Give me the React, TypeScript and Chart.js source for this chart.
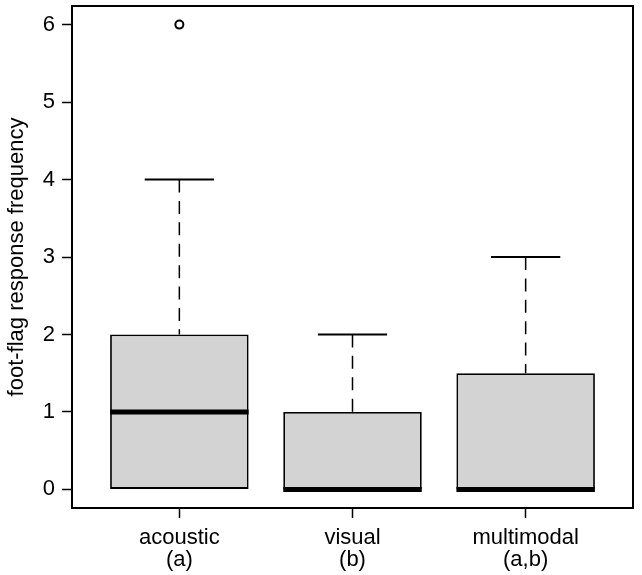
import React, { useEffect, useRef } from "react";
import { Chart, registerables } from "chart.js";

Chart.register(...registerables);

const CATEGORIES = [["acoustic", "(a)"], ["visual", "(b)"], ["multimodal", "(a,b)"]];
const POSITIONS = [1, 2, 3];
const WHISKER_LOW = [0, 0, 0];
const Q1 = [0, 0, 0];
const MEDIAN = [1, 0, 0];
const Q3 = [2, 1, 1.5];
const WHISKER_HIGH = [4, 2, 3];
const OUTLIER_GROUP = [1];
const OUTLIER_VALUE = [6];
const Y_TICKS = [0, 1, 2, 3, 4, 5, 6];
const Y_TITLE = "foot-flag response frequency";

const FONT = "'Liberation Sans', Arial, Helvetica, sans-serif";

const boxPlugin = {
  id: "boxExtras",
  afterDatasetsDraw(chart: any) {
    const ctx = chart.ctx;
    const xs = chart.scales.x;
    const ys = chart.scales.y;
    const meta = chart.getDatasetMeta(0);
    ctx.save();
    ctx.strokeStyle = "#000";
    POSITIONS.forEach((p, i) => {
      const cx = xs.getPixelForValue(p);
      const bar = meta.data[i];
      const half = bar.width / 2;
      const staple = half / 2;
      const yq1 = ys.getPixelForValue(Q1[i]);
      const yq3 = ys.getPixelForValue(Q3[i]);
      const yhi = ys.getPixelForValue(WHISKER_HIGH[i]);
      const ylo = ys.getPixelForValue(WHISKER_LOW[i]);
      ctx.lineWidth = 1.5;
      ctx.setLineDash([13, 8.4]);
      ctx.beginPath();
      ctx.moveTo(cx, yhi);
      ctx.lineTo(cx, yq3);
      if (WHISKER_LOW[i] < Q1[i]) {
        ctx.moveTo(cx, ylo);
        ctx.lineTo(cx, yq1);
      }
      ctx.stroke();
      ctx.setLineDash([]);
      ctx.lineWidth = 2;
      ctx.beginPath();
      if (WHISKER_HIGH[i] > Q3[i]) {
        ctx.moveTo(cx - staple, yhi);
        ctx.lineTo(cx + staple, yhi);
      }
      if (WHISKER_LOW[i] < Q1[i]) {
        ctx.moveTo(cx - staple, ylo);
        ctx.lineTo(cx + staple, ylo);
      }
      ctx.stroke();
      const ym = ys.getPixelForValue(MEDIAN[i]);
      ctx.lineWidth = 5;
      ctx.lineCap = "butt";
      ctx.beginPath();
      ctx.moveTo(cx - half, ym);
      ctx.lineTo(cx + half, ym);
      ctx.stroke();
    });
    ctx.restore();
  },
  afterDraw(chart: any) {
    const { left, top, right, bottom } = chart.chartArea;
    const ctx = chart.ctx;
    ctx.save();
    ctx.strokeStyle = "#000";
    ctx.lineWidth = 2;
    ctx.strokeRect(left, top, right - left, bottom - top);
    ctx.restore();
  },
};

export default function App() {
  const ref = useRef<HTMLCanvasElement | null>(null);

  useEffect(() => {
    document.body.style.margin = "0";
    const canvas = ref.current;
    if (!canvas) return;
    Chart.defaults.font.family = FONT;
    Chart.defaults.color = "#000";

    const chart = new Chart(canvas, {
      type: "bar",
      data: {
        datasets: [
          {
            type: "bar",
            data: POSITIONS.map((p, i) => ({ x: p, y: [Q1[i], Q3[i]] })) as any,
            backgroundColor: "#d3d3d3",
            borderColor: "#000",
            borderWidth: 1.8,
            borderSkipped: false,
            categoryPercentage: 0.8,
            barPercentage: 1,
          } as any,
          {
            type: "scatter",
            data: OUTLIER_GROUP.map((g, i) => ({ x: g, y: OUTLIER_VALUE[i] })),
            pointStyle: "circle",
            pointRadius: 4,
            pointBorderWidth: 2,
            pointBorderColor: "#000",
            pointBackgroundColor: "#fff",
            showLine: false,
          } as any,
        ],
      },
      plugins: [boxPlugin],
      options: {
        responsive: false,
        animation: false,
        devicePixelRatio: 1,
        layout: { padding: { left: 0, top: 6, right: 9, bottom: 0 } },
        plugins: { legend: { display: false }, tooltip: { enabled: false } },
        scales: {
          x: {
            type: "linear",
            min: 0.38,
            max: 3.62,
            offset: false,
            border: { display: false },
            grid: {
              offset: false,
              drawOnChartArea: false,
              drawTicks: true,
              tickLength: 10,
              tickColor: "#000",
              tickWidth: 1.5,
            },
            afterBuildTicks: (scale: any) => {
              scale.ticks = POSITIONS.map((v) => ({ value: v }));
            },
            afterFit: (scale: any) => {
              scale.height = 67;
              scale.paddingLeft = 0;
              scale.paddingRight = 0;
            },
            ticks: {
              autoSkip: false,
              maxRotation: 0,
              padding: 9,
              font: { size: 22, lineHeight: 1.0 },
              color: "#000",
              callback: (v: any) => {
                const idx = POSITIONS.indexOf(Number(v));
                return idx >= 0 ? CATEGORIES[idx] : "";
              },
            },
          },
          y: {
            type: "linear",
            min: -0.24,
            max: 6.24,
            border: { display: false },
            grid: {
              drawOnChartArea: false,
              drawTicks: true,
              tickLength: 10,
              tickColor: "#000",
              tickWidth: 1.5,
            },
            afterBuildTicks: (scale: any) => {
              scale.ticks = Y_TICKS.map((v) => ({ value: v }));
            },
            afterFit: (scale: any) => {
              scale.width = 72;
              scale.paddingTop = 0;
              scale.paddingBottom = 0;
            },
            ticks: {
              padding: 7,
              font: { size: 22 },
              color: "#000",
              callback: (v: any) => String(v),
            },
            title: {
              display: true,
              text: Y_TITLE,
              font: { size: 22 },
              color: "#000",
              padding: { top: 4, bottom: 0 },
            },
          },
        },
      },
    });
    return () => chart.destroy();
  }, []);

  return <canvas ref={ref} width={642} height={575} style={{ display: "block" }} />;
}
